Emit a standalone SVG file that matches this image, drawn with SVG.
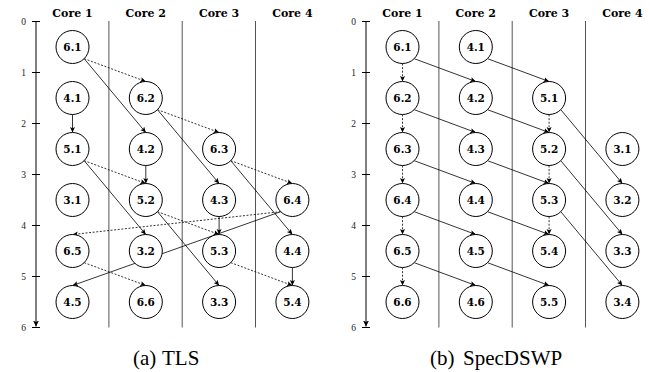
<svg xmlns="http://www.w3.org/2000/svg" width="650" height="372" viewBox="0 0 650 372">
<style>
.bg{fill:#fff}
.node circle{fill:#fff;stroke:#000;stroke-width:1}
.node text{font-family:"DejaVu Serif",serif;font-weight:bold;font-size:10.5px;text-anchor:middle;fill:#000}
.hdr{font-family:"DejaVu Serif",serif;font-weight:bold;font-size:11px;text-anchor:middle;fill:#000}
.tick{font-family:"Liberation Serif",serif;font-size:9.5px;text-anchor:end;fill:#222}
.cap{font-family:"Liberation Serif",serif;font-size:21px;fill:#000}
.div{stroke:#555;stroke-width:1}
.axis{stroke:#000;stroke-width:1;fill:none}
.e{stroke:#000;stroke-width:0.8;fill:none;marker-end:url(#ah)}
.d{stroke-dasharray:2,1.6}
</style>
<defs>
<marker id="ah" markerUnits="userSpaceOnUse" markerWidth="7" markerHeight="6" refX="5.5" refY="2.5" orient="auto">
<path d="M0,0 L5.5,2.5 L0,5 L1.2,2.5 z" fill="#000"/>
</marker>
<marker id="axh" markerUnits="userSpaceOnUse" markerWidth="8" markerHeight="7" refX="6" refY="3" orient="auto">
<path d="M0,0 L6,3 L0,6 L1.4,3 z" fill="#000"/>
</marker>
</defs>
<rect class="bg" x="0" y="0" width="650" height="372"/>

<!-- Left (TLS) frame -->
<g id="left-frame">
<text class="hdr" x="72.5" y="16.5">Core 1</text>
<text class="hdr" x="145.8" y="16.5">Core 2</text>
<text class="hdr" x="219.1" y="16.5">Core 3</text>
<text class="hdr" x="292.4" y="16.5">Core 4</text>
<line class="div" x1="108.9" y1="21" x2="108.9" y2="327.5"/>
<line class="div" x1="182.2" y1="21" x2="182.2" y2="327.5"/>
<line class="div" x1="255.5" y1="21" x2="255.5" y2="327.5"/>
<line class="axis" x1="36" y1="21.5" x2="36" y2="326.5" marker-end="url(#axh)"/>
<path class="axis" d="M32,21.5H40M32,72.5H40M32,123.5H40M32,174.5H40M32,225.5H40M32,276.5H40M32,327.5H40"/>
<text class="tick" x="26" y="24.5">0</text>
<text class="tick" x="26" y="75.5">1</text>
<text class="tick" x="26" y="126.5">2</text>
<text class="tick" x="26" y="177.5">3</text>
<text class="tick" x="26" y="228.5">4</text>
<text class="tick" x="26" y="279.5">5</text>
<text class="tick" x="26" y="330.5">6</text>
<text class="cap" y="365"><tspan x="133">(a)</tspan><tspan x="162">TLS</tspan></text>
</g>

<!-- Right (SpecDSWP) frame -->
<g id="right-frame">
<text class="hdr" x="402.5" y="16.5">Core 1</text>
<text class="hdr" x="475.8" y="16.5">Core 2</text>
<text class="hdr" x="549.1" y="16.5">Core 3</text>
<text class="hdr" x="622.4" y="16.5">Core 4</text>
<line class="div" x1="438.9" y1="21" x2="438.9" y2="327.5"/>
<line class="div" x1="512.2" y1="21" x2="512.2" y2="327.5"/>
<line class="div" x1="585.5" y1="21" x2="585.5" y2="327.5"/>
<line class="axis" x1="366" y1="21.5" x2="366" y2="326.5" marker-end="url(#axh)"/>
<path class="axis" d="M362,21.5H370M362,72.5H370M362,123.5H370M362,174.5H370M362,225.5H370M362,276.5H370M362,327.5H370"/>
<text class="tick" x="356" y="24.5">0</text>
<text class="tick" x="356" y="75.5">1</text>
<text class="tick" x="356" y="126.5">2</text>
<text class="tick" x="356" y="177.5">3</text>
<text class="tick" x="356" y="228.5">4</text>
<text class="tick" x="356" y="279.5">5</text>
<text class="tick" x="356" y="330.5">6</text>
<text class="cap" y="365"><tspan x="430">(b)</tspan><tspan x="463">SpecDSWP</tspan></text>
</g>

<g id="connectors">
<!-- TLS -->
<line class="e d" x1="84.17" y1="58.67" x2="145.8" y2="81.5"/>
<line class="e" x1="84.17" y1="58.67" x2="145.8" y2="132.5"/>
<line class="e" x1="72.5" y1="114.5" x2="72.5" y2="132.5"/>
<line class="e d" x1="157.47" y1="109.67" x2="219.1" y2="132.5"/>
<line class="e" x1="157.47" y1="109.67" x2="219.1" y2="183.5"/>
<line class="e d" x1="84.17" y1="160.67" x2="145.8" y2="183.5"/>
<line class="e" x1="84.17" y1="160.67" x2="145.8" y2="234.5"/>
<line class="e" x1="145.8" y1="165.5" x2="145.8" y2="183.5"/>
<line class="e d" x1="230.77" y1="160.67" x2="292.4" y2="183.5"/>
<line class="e" x1="230.77" y1="160.67" x2="292.4" y2="234.5"/>
<line class="e d" x1="157.47" y1="211.67" x2="219.1" y2="234.5"/>
<line class="e" x1="157.47" y1="211.67" x2="219.1" y2="285.5"/>
<line class="e" x1="219.1" y1="216.5" x2="219.1" y2="234.5"/>
<line class="e d" x1="280.73" y1="211.67" x2="72.5" y2="234.5"/>
<line class="e" x1="280.73" y1="211.67" x2="72.5" y2="285.5"/>
<line class="e" x1="292.4" y1="267.5" x2="292.4" y2="285.5"/>
<line class="e d" x1="230.77" y1="262.67" x2="292.4" y2="285.5"/>
<line class="e d" x1="84.17" y1="262.67" x2="145.8" y2="285.5"/>
<!-- SpecDSWP: core1 dotted chain -->
<line class="e d" x1="402.5" y1="63.5" x2="402.5" y2="81.5"/>
<line class="e d" x1="402.5" y1="114.5" x2="402.5" y2="132.5"/>
<line class="e d" x1="402.5" y1="165.5" x2="402.5" y2="183.5"/>
<line class="e d" x1="402.5" y1="216.5" x2="402.5" y2="234.5"/>
<line class="e d" x1="402.5" y1="267.5" x2="402.5" y2="285.5"/>
<!-- 6.k -> 4.k+1 -->
<line class="e" x1="414.17" y1="58.67" x2="475.8" y2="81.5"/>
<line class="e" x1="414.17" y1="109.67" x2="475.8" y2="132.5"/>
<line class="e" x1="414.17" y1="160.67" x2="475.8" y2="183.5"/>
<line class="e" x1="414.17" y1="211.67" x2="475.8" y2="234.5"/>
<line class="e" x1="414.17" y1="262.67" x2="475.8" y2="285.5"/>
<!-- 4.k -> 5.k -->
<line class="e" x1="487.47" y1="58.67" x2="549.1" y2="81.5"/>
<line class="e" x1="487.47" y1="109.67" x2="549.1" y2="132.5"/>
<line class="e" x1="487.47" y1="160.67" x2="549.1" y2="183.5"/>
<line class="e" x1="487.47" y1="211.67" x2="549.1" y2="234.5"/>
<line class="e" x1="487.47" y1="262.67" x2="549.1" y2="285.5"/>
<!-- 5.k dotted chain -->
<line class="e d" x1="549.1" y1="114.5" x2="549.1" y2="132.5"/>
<line class="e d" x1="549.1" y1="165.5" x2="549.1" y2="183.5"/>
<line class="e d" x1="549.1" y1="216.5" x2="549.1" y2="234.5"/>
<!-- 5.k -> 3.k+1 -->
<line class="e" x1="560.77" y1="109.67" x2="622.4" y2="183.5"/>
<line class="e" x1="560.77" y1="160.67" x2="622.4" y2="234.5"/>
<line class="e" x1="560.77" y1="211.67" x2="622.4" y2="285.5"/>
</g>

<!-- TLS nodes -->
<g id="tls-6-1" class="node"><circle cx="72.5" cy="47" r="16.5"/><text x="72.5" y="50.8">6.1</text></g>
<g id="tls-4-1" class="node"><circle cx="72.5" cy="98" r="16.5"/><text x="72.5" y="101.8">4.1</text></g>
<g id="tls-5-1" class="node"><circle cx="72.5" cy="149" r="16.5"/><text x="72.5" y="152.8">5.1</text></g>
<g id="tls-3-1" class="node"><circle cx="72.5" cy="200" r="16.5"/><text x="72.5" y="203.8">3.1</text></g>
<g id="tls-6-5" class="node"><circle cx="72.5" cy="251" r="16.5"/><text x="72.5" y="254.8">6.5</text></g>
<g id="tls-4-5" class="node"><circle cx="72.5" cy="302" r="16.5"/><text x="72.5" y="305.8">4.5</text></g>
<g id="tls-6-2" class="node"><circle cx="145.8" cy="98" r="16.5"/><text x="145.8" y="101.8">6.2</text></g>
<g id="tls-4-2" class="node"><circle cx="145.8" cy="149" r="16.5"/><text x="145.8" y="152.8">4.2</text></g>
<g id="tls-5-2" class="node"><circle cx="145.8" cy="200" r="16.5"/><text x="145.8" y="203.8">5.2</text></g>
<g id="tls-3-2" class="node"><circle cx="145.8" cy="251" r="16.5"/><text x="145.8" y="254.8">3.2</text></g>
<g id="tls-6-6" class="node"><circle cx="145.8" cy="302" r="16.5"/><text x="145.8" y="305.8">6.6</text></g>
<g id="tls-6-3" class="node"><circle cx="219.1" cy="149" r="16.5"/><text x="219.1" y="152.8">6.3</text></g>
<g id="tls-4-3" class="node"><circle cx="219.1" cy="200" r="16.5"/><text x="219.1" y="203.8">4.3</text></g>
<g id="tls-5-3" class="node"><circle cx="219.1" cy="251" r="16.5"/><text x="219.1" y="254.8">5.3</text></g>
<g id="tls-3-3" class="node"><circle cx="219.1" cy="302" r="16.5"/><text x="219.1" y="305.8">3.3</text></g>
<g id="tls-6-4" class="node"><circle cx="292.4" cy="200" r="16.5"/><text x="292.4" y="203.8">6.4</text></g>
<g id="tls-4-4" class="node"><circle cx="292.4" cy="251" r="16.5"/><text x="292.4" y="254.8">4.4</text></g>
<g id="tls-5-4" class="node"><circle cx="292.4" cy="302" r="16.5"/><text x="292.4" y="305.8">5.4</text></g>

<!-- SpecDSWP nodes -->
<g id="sd-6-1" class="node"><circle cx="402.5" cy="47" r="16.5"/><text x="402.5" y="50.8">6.1</text></g>
<g id="sd-6-2" class="node"><circle cx="402.5" cy="98" r="16.5"/><text x="402.5" y="101.8">6.2</text></g>
<g id="sd-6-3" class="node"><circle cx="402.5" cy="149" r="16.5"/><text x="402.5" y="152.8">6.3</text></g>
<g id="sd-6-4" class="node"><circle cx="402.5" cy="200" r="16.5"/><text x="402.5" y="203.8">6.4</text></g>
<g id="sd-6-5" class="node"><circle cx="402.5" cy="251" r="16.5"/><text x="402.5" y="254.8">6.5</text></g>
<g id="sd-6-6" class="node"><circle cx="402.5" cy="302" r="16.5"/><text x="402.5" y="305.8">6.6</text></g>
<g id="sd-4-1" class="node"><circle cx="475.8" cy="47" r="16.5"/><text x="475.8" y="50.8">4.1</text></g>
<g id="sd-4-2" class="node"><circle cx="475.8" cy="98" r="16.5"/><text x="475.8" y="101.8">4.2</text></g>
<g id="sd-4-3" class="node"><circle cx="475.8" cy="149" r="16.5"/><text x="475.8" y="152.8">4.3</text></g>
<g id="sd-4-4" class="node"><circle cx="475.8" cy="200" r="16.5"/><text x="475.8" y="203.8">4.4</text></g>
<g id="sd-4-5" class="node"><circle cx="475.8" cy="251" r="16.5"/><text x="475.8" y="254.8">4.5</text></g>
<g id="sd-4-6" class="node"><circle cx="475.8" cy="302" r="16.5"/><text x="475.8" y="305.8">4.6</text></g>
<g id="sd-5-1" class="node"><circle cx="549.1" cy="98" r="16.5"/><text x="549.1" y="101.8">5.1</text></g>
<g id="sd-5-2" class="node"><circle cx="549.1" cy="149" r="16.5"/><text x="549.1" y="152.8">5.2</text></g>
<g id="sd-5-3" class="node"><circle cx="549.1" cy="200" r="16.5"/><text x="549.1" y="203.8">5.3</text></g>
<g id="sd-5-4" class="node"><circle cx="549.1" cy="251" r="16.5"/><text x="549.1" y="254.8">5.4</text></g>
<g id="sd-5-5" class="node"><circle cx="549.1" cy="302" r="16.5"/><text x="549.1" y="305.8">5.5</text></g>
<g id="sd-3-1" class="node"><circle cx="622.4" cy="149" r="16.5"/><text x="622.4" y="152.8">3.1</text></g>
<g id="sd-3-2" class="node"><circle cx="622.4" cy="200" r="16.5"/><text x="622.4" y="203.8">3.2</text></g>
<g id="sd-3-3" class="node"><circle cx="622.4" cy="251" r="16.5"/><text x="622.4" y="254.8">3.3</text></g>
<g id="sd-3-4" class="node"><circle cx="622.4" cy="302" r="16.5"/><text x="622.4" y="305.8">3.4</text></g>
</svg>
